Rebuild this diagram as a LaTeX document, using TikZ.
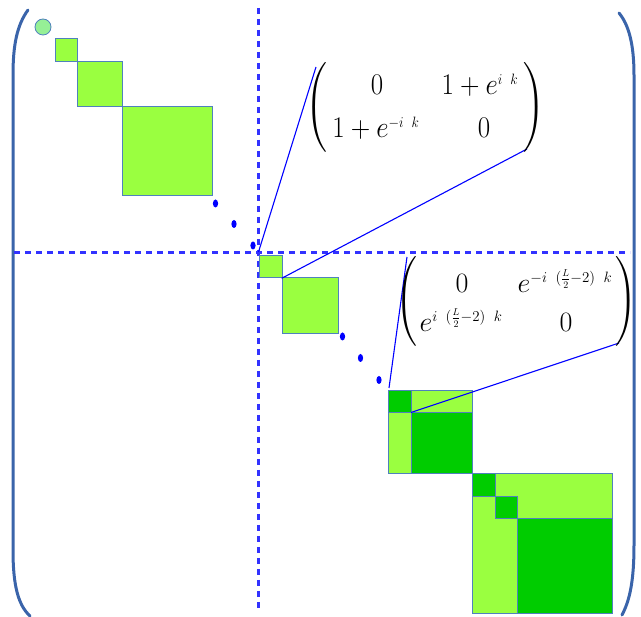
\RequirePackage{fix-cm}
\documentclass[tikz,border=0pt]{standalone}
\usepackage{amsmath}
\usepackage{graphicx}
\DeclareMathSizes{30}{30}{15}{11}
\DeclareMathSizes{28}{28}{15}{10}
\begin{document}
\begin{tikzpicture}[x=1pt,y=-1pt,
  blk/.style={draw=edgeblue,line width=1pt},
  lg/.style={blk,fill=lgreen},
  dg/.style={blk,fill=dgreen},
  dotm/.style={fill=blue,draw=none},
  axis/.style={draw=dashblue,line width=3pt,dash pattern=on 6pt off 5pt},
  zoomline/.style={draw=blue,line width=1.1pt},
  bigparen/.style={draw=parenblue,line width=3pt,line cap=round},
  ent/.style={inner sep=0pt,font=\fontsize{30}{36}\selectfont},
  ent2/.style={inner sep=0pt,font=\fontsize{28}{34}\selectfont}
]
\newcommand{\mA}[1]{\scalebox{0.9}[1]{$#1$}}
\newcommand{\mB}[1]{\scalebox{1}[1]{$#1$}}
\definecolor{lgreen}{RGB}{154,255,64}
\definecolor{dgreen}{RGB}{0,204,0}
\definecolor{edgeblue}{RGB}{79,129,189}
\definecolor{dashblue}{RGB}{50,50,255}
\definecolor{parenblue}{RGB}{58,100,170}
\definecolor{circfill}{RGB}{150,240,150}
\useasboundingbox (0,0) rectangle (641,617);

% big parentheses
\draw[bigparen] (28,10) .. controls (17,25) and (13,45) .. (13,75) -- (13,550) .. controls (13,585) and (18,605) .. (30,616);
\draw[bigparen] (619,13) .. controls (629,25) and (634,45) .. (634,75) -- (634,545) .. controls (634,580) and (630,600) .. (622,615);

% dashed axes
\draw[axis] (258.5,8) -- (258.5,612);
\draw[axis] (14,252.5) -- (630,252.5);

% top-left chain
\node[circle,draw=edgeblue,fill=circfill,line width=0.8pt,minimum size=16pt,inner sep=0pt] (c0) at (43,27) {};
\draw[lg] (55,39) rectangle (77,62);
\draw[lg] (77,62) rectangle (122,107);
\draw[lg] (122,107) rectangle (212,196);

% dots
\fill[dotm] (215.5,203.5) ellipse (2.6 and 4);
\fill[dotm] (234,224) ellipse (2.6 and 4);
\fill[dotm] (253,245.5) ellipse (2.6 and 4);
\fill[dotm] (342.5,336.5) ellipse (2.6 and 4);
\fill[dotm] (360.5,358) ellipse (2.6 and 4);
\fill[dotm] (379,380) ellipse (2.6 and 4);

% middle squares
\draw[lg] (259,256) rectangle (282,278);
\draw[lg] (282,278) rectangle (338,334);

% block A
\draw[lg] (388.5,390.5) rectangle (472.5,474);
\draw[dg] (388.5,390.5) rectangle (411,412.5);
\draw[dg] (411,412.5) rectangle (472.5,474);

% block B
\draw[lg] (472.5,474) rectangle (612.5,614);
\draw[dg] (472.5,474) rectangle (495,496.5);
\draw[dg] (495,496.5) rectangle (517.5,519);
\draw[dg] (517.5,519) rectangle (612.5,614);

% zoom lines
\coordinate (z1a) at (258.5,252);
\coordinate (z1b) at (281.7,278.3);
\coordinate (m1a) at (316,67);
\coordinate (m1b) at (527,149);
\draw[zoomline] (z1a) -- (m1a);
\draw[zoomline] (z1b) -- (m1b);
\coordinate (z2a) at (389,388);
\coordinate (z2b) at (411,412.5);
\coordinate (m2a) at (407,257);
\coordinate (m2b) at (619,343);
\draw[zoomline] (z2a) -- (m2a);
\draw[zoomline] (z2b) -- (m2b);

% matrix 1
\node[ent,anchor=base] (a11) at (377,95) {\mA{0}};
\node[ent,anchor=base] (a12) at (480,95) {\mA{1+e^{i\ k}}};
\node[ent,anchor=base] (a21) at (376,138) {\mA{1+e^{-i\ k}}};
\node[ent,anchor=base] (a22) at (484,138) {\mA{0}};
\node[inner sep=0pt,font=\fontsize{24.88}{30}\selectfont] (p1l) at (317,108) {$\left(\vrule width 0pt height 40pt depth 40pt\right.$};
\node[inner sep=0pt,font=\fontsize{24.88}{30}\selectfont] (p1r) at (534,108) {$\left.\vrule width 0pt height 40pt depth 40pt\right)$};

% matrix 2
\node[ent2,anchor=base] (b11) at (462,293) {\mB{0}};
\node[ent2,anchor=base] (b12) at (565,293) {\mB{e^{-i\ (\frac{L}{2}-2)\ k}}};
\node[ent2,anchor=base] (b21) at (461,332) {\mB{e^{i\ (\frac{L}{2}-2)\ k}}};
\node[ent2,anchor=base] (b22) at (566,332) {\mB{0}};
\node[inner sep=0pt,font=\fontsize{24.88}{30}\selectfont] (p2l) at (407,302) {$\left(\vrule width 0pt height 39pt depth 39pt\right.$};
\node[inner sep=0pt,font=\fontsize{24.88}{30}\selectfont] (p2r) at (626,302) {$\left.\vrule width 0pt height 39pt depth 39pt\right)$};
\end{tikzpicture}
\end{document}
